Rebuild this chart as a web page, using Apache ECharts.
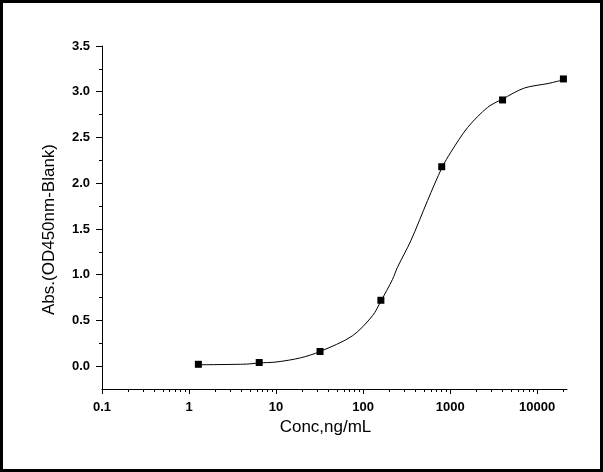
<!DOCTYPE html>
<html>
<head>
<meta charset="utf-8">
<script src="https://cdn.jsdelivr.net/npm/echarts@6/dist/echarts.min.js"></script>
<style>
  html, body { margin: 0; padding: 0; background: #fff; }
  #chart { width: 603px; height: 472px; box-sizing: border-box; border: 3px solid #000; }
</style>
</head>
<body>
<div id="chart"></div>
<script>
// measured points (ng/mL vs OD450 - blank)
const conc = [1.28, 6.4, 32, 160, 800, 4000, 20000];
const absorbance = [0.02, 0.04, 0.16, 0.72, 2.18, 2.91, 3.14];

// fitted curve
const fitConc = [1.28, 4.6, 6.4, 10, 19, 32, 75, 128, 160, 218, 248, 353, 550, 805, 1020, 1590, 2700, 4000, 7100, 13300, 20000];
const fitAbs = [0.015, 0.022, 0.035, 0.045, 0.09, 0.16, 0.33, 0.55, 0.71, 0.95, 1.08, 1.37, 1.81, 2.17, 2.34, 2.61, 2.83, 2.92, 3.04, 3.09, 3.13];

// tick positions
const xMajor = [0.1, 1, 10, 100, 1000, 10000];
const xMinor = [0.2, 0.3, 0.4, 0.5, 0.6, 0.7, 0.8, 0.9,
  2, 3, 4, 5, 6, 7, 8, 9,
  20, 30, 40, 50, 60, 70, 80, 90,
  200, 300, 400, 500, 600, 700, 800, 900,
  2000, 3000, 4000, 5000, 6000, 7000, 8000, 9000,
  20000];
const yMajor = [0, 0.5, 1, 1.5, 2, 2.5, 3, 3.5];
const yMinor = [0.25, 0.75, 1.25, 1.75, 2.25, 2.75, 3.25];

const labelFont = {color: '#000', fontFamily: 'Liberation Sans', fontWeight: 'bold', fontSize: 13};
const nameFont = {color: '#000', fontFamily: 'Liberation Sans', fontSize: 17};
const xMin = 0.1, xMax = 22000, yMin = -0.25, yMax = 3.5;

const chart = echarts.init(document.getElementById('chart'));
chart.setOption({
  animation: false,
  grid: {left: 99, right: 33, top: 43, bottom: 80},
  xAxis: [
    {
      type: 'log', logBase: 10, min: xMin, max: xMax, position: 'bottom',
      name: 'Conc,ng/mL', nameLocation: 'middle', nameGap: 27,
      nameTextStyle: {...nameFont, padding: [0, 18, 0, 0]},
      axisLine: {onZero: false, lineStyle: {color: '#000', width: 1}},
      axisTick: {length: 5, lineStyle: {color: '#000'}, customValues: xMajor},
      axisLabel: {margin: 12, customValues: xMajor, formatter: v => String(v), ...labelFont},
      splitLine: {show: false}, minorTick: {show: false}
    },
    {
      type: 'log', logBase: 10, min: xMin, max: xMax, position: 'bottom',
      axisLine: {show: false, onZero: false},
      axisTick: {length: 3, lineStyle: {color: '#000'}, customValues: xMinor},
      axisLabel: {show: false},
      splitLine: {show: false}
    }
  ],
  yAxis: [
    {
      type: 'value', min: yMin, max: yMax, position: 'left',
      name: 'Abs.(OD450nm-Blank)', nameLocation: 'middle', nameGap: 44,
      nameTextStyle: {...nameFont, padding: [0, 24, 0, 0]},
      axisLine: {show: true, onZero: false, lineStyle: {color: '#000', width: 1}},
      axisTick: {show: true, length: 6, lineStyle: {color: '#000'}, customValues: yMajor},
      axisLabel: {margin: 12, customValues: yMajor, formatter: v => v.toFixed(1), ...labelFont},
      splitLine: {show: false}
    },
    {
      type: 'value', min: yMin, max: yMax, position: 'left',
      axisLine: {show: false, onZero: false},
      axisTick: {show: true, length: 3, lineStyle: {color: '#000'}, customValues: yMinor},
      axisLabel: {show: false},
      splitLine: {show: false}
    }
  ],
  series: [
    {
      name: 'fit', type: 'line', smooth: 0.3, showSymbol: false,
      lineStyle: {color: '#000', width: 1},
      data: fitConc.map((c, i) => [c, fitAbs[i]]),
      z: 2
    },
    {
      name: 'data', type: 'scatter', symbol: 'rect', symbolSize: 7,
      itemStyle: {color: '#000', opacity: 1},
      data: conc.map((c, i) => [c, absorbance[i]]),
      z: 3
    }
  ]
});
</script>
</body>
</html>
